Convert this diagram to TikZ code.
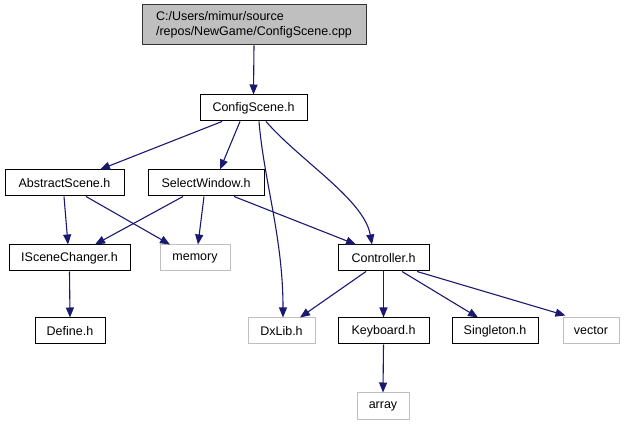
\documentclass[tikz,border=0pt]{standalone}
\usepackage{fontspec}
\setmainfont{Liberation Sans}
\usetikzlibrary{arrows.meta}
\definecolor{edgeblue}{HTML}{191970}
\definecolor{extgray}{HTML}{BFBFBF}
\begin{document}
\begin{tikzpicture}[x=1pt,y=-1pt,
  box/.style={draw=black,line width=1pt,inner sep=0pt,minimum height=26pt,
    font=\fontsize{12.5}{15}\selectfont,anchor=center},
  extbox/.style={box,draw=extgray},
  rootbox/.style={box,fill=extgray,draw=black!80,minimum height=40pt,align=left},
  dep/.style={draw=edgeblue,line width=1.1pt,-{Triangle[length=10pt,width=8pt]}}]
\useasboundingbox (0,0) rectangle (625,425);
\node[rootbox,minimum width=224pt] (root) at (254,25) {C:/Users/mimur/source\\/repos/NewGame/ConfigScene.cpp};
\node[box,minimum width=107pt] (cs) at (253.5,108) {ConfigScene.h};
\node[box,minimum width=119pt] (abs) at (64.5,183) {AbstractScene.h};
\node[box,minimum width=116pt] (sel) at (206,183) {SelectWindow.h};
\node[box,minimum width=121pt] (isc) at (69.5,258) {ISceneChanger.h};
\node[extbox,minimum width=70pt] (mem) at (195,258) {memory};
\node[box,minimum width=91pt] (ctl) at (383.5,258) {Controller.h};
\node[box,minimum width=70pt] (def) at (70,331) {Define.h};
\node[extbox,minimum width=67pt] (dx) at (281.5,331) {DxLib.h};
\node[box,minimum width=91pt] (kb) at (383.5,331) {Keyboard.h};
\node[box,minimum width=86pt] (sg) at (495,331) {Singleton.h};
\node[extbox,minimum width=56pt] (vec) at (591,331) {vector};
\node[extbox,minimum width=52pt] (arr) at (383,406) {array};

\draw[dep] (root.south) -- (cs.north);
\draw[dep] ([xshift=-31.5pt]cs.south) -- ([xshift=35.5pt]abs.north);
\draw[dep] ([xshift=-13.5pt]cs.south) -- ([xshift=14pt]sel.north);
\draw[dep] ([xshift=5.5pt]cs.south) .. controls +(5,60) and +(0,-80) .. ([xshift=1.5pt]dx.north);
\draw[dep] ([xshift=12.5pt]cs.south) .. controls +(35,40) and +(-8,-45) .. ([xshift=-11.5pt]ctl.north);
\draw[dep] ([xshift=-0.5pt]abs.south) -- ([xshift=-1.5pt]isc.north);
\draw[dep] ([xshift=21.5pt]abs.south) -- ([xshift=-25pt]mem.north);
\draw[dep] ([xshift=-23pt]sel.south) -- ([xshift=25.5pt]isc.north);
\draw[dep] ([xshift=-2pt]sel.south) -- ([xshift=3pt]mem.north);
\draw[dep] ([xshift=28pt]sel.south) -- ([xshift=-27.5pt]ctl.north);
\draw[dep] (isc.south) -- (def.north);
\draw[dep] ([xshift=-17.5pt]ctl.south) -- ([xshift=18.5pt]dx.north);
\draw[dep] (ctl.south) -- (kb.north);
\draw[dep] ([xshift=18.5pt]ctl.south) -- ([xshift=-17pt]sg.north);
\draw[dep] ([xshift=33.5pt]ctl.south) -- ([xshift=3pt,yshift=2pt]vec.north west);
\draw[dep] (kb.south) -- (arr.north);
\end{tikzpicture}
\end{document}
